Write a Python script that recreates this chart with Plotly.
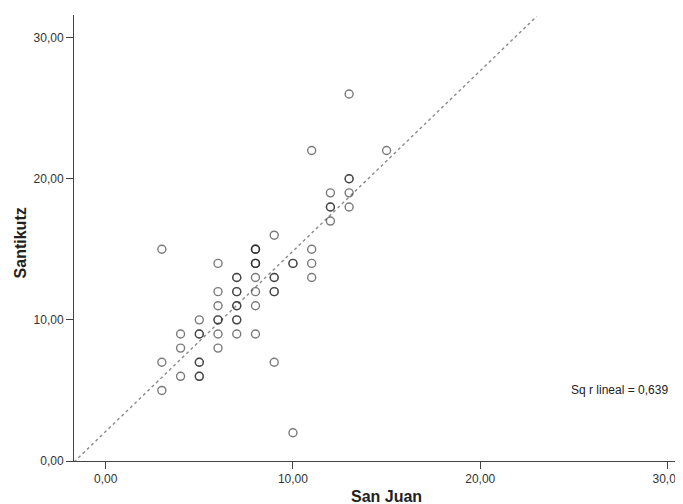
import numpy as np
import plotly.graph_objects as go

# San Juan (x) and Santikutz (y) values; overlapping points repeated
san_juan = [3, 3, 3,
            4, 4, 4,
            5, 5, 5, 5, 5, 5, 5,
            6, 6, 6, 6, 6, 6, 6,
            7, 7, 7, 7, 7, 7, 7, 7, 7,
            8, 8, 8, 8, 8, 8, 8, 8, 8, 8,
            9, 9, 9, 9, 9, 9,
            10, 10, 10,
            11, 11, 11, 11,
            12, 12, 12, 12,
            13, 13, 13, 13, 13,
            15]
santikutz = [15, 7, 5,
             9, 8, 6,
             10, 9, 9, 7, 7, 6, 6,
             14, 12, 11, 10, 10, 9, 8,
             13, 13, 12, 12, 11, 11, 10, 10, 9,
             15, 15, 14, 14, 13, 12, 11, 9, 14, 15,
             16, 13, 13, 12, 12, 7,
             14, 14, 2,
             22, 15, 14, 13,
             19, 18, 18, 17,
             26, 20, 20, 19, 18,
             22]
tick_vals = [0, 10, 20, 30]
tick_text = ["0,00", "10,00", "20,00", "30,00"]
r2_label = "Sq r lineal = 0,639"
# linear fit line
fit_intercept = 2.09
fit_slope = 1.278

x_range = [-1.69, 30.72]
y_range = [0, 31.6]
xl = np.array([x_range[0], (31.5 - fit_intercept) / fit_slope])
yl = fit_intercept + fit_slope * xl

FONT = "Liberation Sans, Arial, sans-serif"

fig = go.Figure()
fig.add_trace(go.Scatter(x=xl, y=yl, mode="lines",
                         line=dict(color="#8a8a8a", width=1.4, dash="dot"),
                         hoverinfo="skip", showlegend=False))
fig.add_trace(go.Scatter(x=san_juan, y=santikutz, mode="markers",
                         marker=dict(symbol="circle-open", size=8, opacity=0.6,
                                     color="#222", line=dict(width=1.4, color="#222")),
                         showlegend=False))
fig.add_annotation(x=27.41, y=5.0, xref="x", yref="y", text=r2_label, showarrow=False,
                   font=dict(family=FONT, size=12, color="#222"))
fig.add_annotation(x=0.5156, y=-0.0785, xref="paper", yref="paper", text="<b>San Juan</b>",
                   showarrow=False, xanchor="center", yanchor="middle",
                   font=dict(family=FONT, size=16, color="#222"))
fig.add_annotation(x=-0.0874, y=0.49, xref="paper", yref="paper", text="<b>Santikutz</b>",
                   showarrow=False, xanchor="center", yanchor="middle", textangle=-90,
                   font=dict(family=FONT, size=16, color="#222"))

axis_common = dict(showgrid=False, zeroline=False, showline=True, linecolor="#444",
                   linewidth=1, ticks="outside", ticklen=7, tickcolor="#444",
                   tickfont=dict(family=FONT, size=12, color="#333"))
fig.update_xaxes(range=x_range, tickvals=tick_vals, ticktext=tick_text,
                 ticklabeloverflow="allow", **axis_common)
fig.update_yaxes(range=y_range, tickvals=tick_vals, ticktext=tick_text, **axis_common)
fig.update_layout(width=675, height=496, plot_bgcolor="white", paper_bgcolor="white",
                  margin=dict(l=66, r=0, t=7, b=43), autosize=False)
fig.write_html("out.html")
